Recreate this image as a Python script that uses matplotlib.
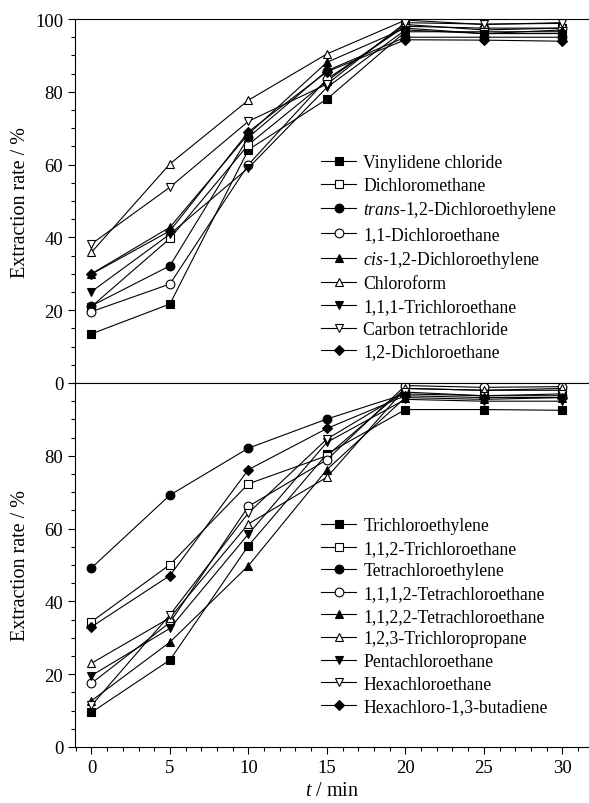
# -*- coding: utf-8 -*-
import matplotlib as mpl
import matplotlib.pyplot as plt
from matplotlib.ticker import MultipleLocator

mpl.rcParams["font.family"] = ["Liberation Serif", "DejaVu Serif"]
mpl.rcParams["mathtext.fontset"] = "custom"
mpl.rcParams["mathtext.rm"] = "Liberation Serif"
mpl.rcParams["mathtext.it"] = "Liberation Serif:italic"
mpl.rcParams["font.size"] = 13.5

t = [0, 5, 10, 15, 20, 25, 30]

# Pannello superiore
nomi_sup = ["Vinylidene chloride", "Dichloromethane",
            r"$\it{trans}$-1,2-Dichloroethylene", "1,1-Dichloroethane",
            r"$\it{cis}$-1,2-Dichloroethylene", "Chloroform",
            "1,1,1-Trichloroethane", "Carbon tetrachloride", "1,2-Dichloroethane"]
vinylidene = [13.5, 21.7, 64.1, 78.0, 96.5, 96.5, 96.5]
dcm = [21.0, 39.7, 65.5, 83.0, 98.5, 97.0, 97.5]
trans_dce = [21.2, 32.2, 67.5, 85.8, 95.0, 95.0, 95.0]
dca_11 = [19.6, 27.2, 60.0, 83.5, 98.0, 97.5, 97.5]
cis_dce = [30.0, 42.8, 68.4, 88.1, 97.5, 96.0, 97.0]
chloroform = [35.9, 60.2, 77.7, 90.4, 99.7, 98.5, 99.0]
tca_111 = [25.1, 40.9, 59.1, 81.2, 97.0, 96.0, 96.0]
ccl4 = [38.2, 53.8, 71.9, 82.1, 99.0, 98.6, 98.8]
dca_12 = [29.9, 41.8, 69.0, 85.5, 94.3, 94.2, 93.9]
serie_sup = [vinylidene, dcm, trans_dce, dca_11, cis_dce, chloroform,
             tca_111, ccl4, dca_12]

# Pannello inferiore
nomi_inf = ["Trichloroethylene", "1,1,2-Trichloroethane", "Tetrachloroethylene",
            "1,1,1,2-Tetrachloroethane", "1,1,2,2-Tetrachloroethane",
            "1,2,3-Trichloropropane", "Pentachloroethane", "Hexachloroethane",
            "Hexachloro-1,3-butadiene"]
tce = [9.5, 23.9, 55.3, 80.5, 92.7, 92.7, 92.5]
tca_112 = [34.4, 50.1, 72.3, 80.0, 98.5, 98.0, 98.0]
pce = [49.2, 69.2, 82.1, 90.1, 97.0, 96.5, 96.5]
teca_1112 = [17.5, 34.2, 66.1, 78.9, 99.3, 98.8, 99.0]
teca_1122 = [12.7, 28.8, 49.8, 76.2, 96.0, 95.5, 96.0]
tcp_123 = [23.0, 35.5, 61.3, 74.1, 98.5, 98.0, 98.5]
penta = [19.6, 32.6, 58.5, 83.7, 95.5, 95.0, 95.0]
hexa = [11.4, 36.3, 64.3, 84.6, 97.5, 96.5, 97.0]
hcbd = [33.0, 47.1, 76.2, 87.5, 96.5, 96.0, 96.0]
serie_inf = [tce, tca_112, pce, teca_1112, teca_1122, tcp_123, penta, hexa, hcbd]

# marker, riempimento
stili = [("s", "k"), ("s", "w"), ("o", "k"), ("o", "w"), ("^", "k"),
         ("^", "w"), ("v", "k"), ("v", "w"), ("D", "k")]


def disegna(ax, serie, nomi, legend_top):
    for y, nome, (m, fc) in zip(serie, nomi, stili):
        ms = 5.2 if m == "D" else 6.3
        ax.plot(t, y, color="k", lw=0.8, marker=m, mfc=fc, mec="k",
                mew=0.8, ms=ms, label=nome)
    ax.set_xlim(-1.05, 31.7)
    ax.set_ylim(0, 100)
    ax.xaxis.set_major_locator(MultipleLocator(5))
    ax.xaxis.set_minor_locator(MultipleLocator(1))
    ax.yaxis.set_major_locator(MultipleLocator(20))
    ax.yaxis.set_minor_locator(MultipleLocator(5))
    ax.tick_params(which="major", direction="out", length=5, width=0.8)
    ax.tick_params(which="minor", direction="out", length=3, width=0.8)
    ax.spines["right"].set_visible(False)
    for s in ["left", "bottom", "top"]:
        ax.spines[s].set_linewidth(0.8)
    ax.set_ylabel("Extraction rate / %", fontsize=14.5)
    ax.yaxis.set_label_coords(-0.088, 0.5)
    ax.legend(loc="upper left", bbox_to_anchor=(0.465, legend_top),
              frameon=False, handlelength=2.0, handletextpad=0.4,
              labelspacing=0.32, borderaxespad=0, fontsize=12.7)


fig = plt.figure(figsize=(5.89, 8.04), dpi=100)
ax1 = fig.add_axes([0.1273, 0.5224, 0.8727, 0.4527])
ax2 = fig.add_axes([0.1273, 0.0697, 0.8727, 0.4527])

disegna(ax1, serie_sup, nomi_sup, 0.648)
ax1.tick_params(axis="x", labelbottom=False)

disegna(ax2, serie_inf, nomi_inf, 0.651)
ax2.set_yticks([0, 20, 40, 60, 80])
ax2.set_xlabel(r"$t$ / min", fontsize=14.5, labelpad=4)

fig.savefig("out.png", dpi=100)
